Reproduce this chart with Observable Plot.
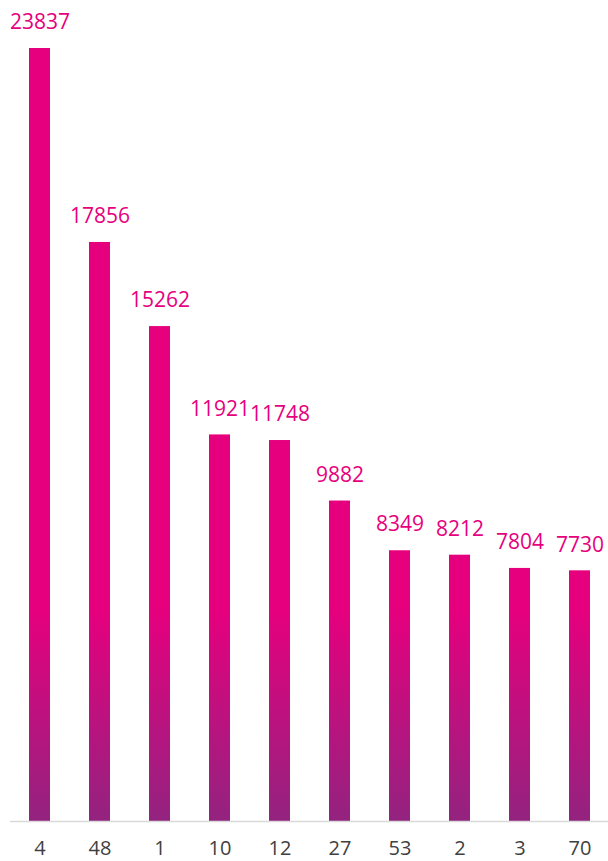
<!DOCTYPE html>
<html>
<head>
<meta charset="utf-8">
<script src="https://cdn.jsdelivr.net/npm/d3@7"></script>
<script src="https://cdn.jsdelivr.net/npm/@observablehq/plot@0.6"></script>
<style>
  html, body { margin: 0; padding: 0; background: #ffffff; }
  svg { display: block; }
</style>
</head>
<body>
<div id="chart"></div>
<script>
const categories = ["4", "48", "1", "10", "12", "27", "53", "2", "3", "70"];
const values = [23837, 17856, 15262, 11921, 11748, 9882, 8349, 8212, 7804, 7730];

const data = categories.map((c, i) => ({category: c, value: values[i]}));

const chart = Plot.plot({
  width: 608,
  height: 861,
  marginTop: 48,
  marginBottom: 40,
  marginLeft: 10,
  marginRight: 0,
  style: {background: "#ffffff", fontFamily: "'Open Sans', sans-serif"},
  x: {domain: categories, range: [10, 610], paddingInner: 0.645, paddingOuter: 0.3225, label: null},
  y: {domain: [0, 23837], axis: null},
  marks: [
    Plot.barY(data, {x: "category", y: "value", fill: "url(#barGrad)"}),
    Plot.ruleY([0], {stroke: "#d9d9d9", strokeWidth: 1.5}),
    Plot.text(data, {
      x: "category", y: "value", text: d => String(d.value),
      dy: -26, fill: "#E6007E", fontSize: 21, lineAnchor: "middle"
    }),
    Plot.axisX({tickSize: 0, tickPadding: 19, fontSize: 20, color: "#404040", label: null})
  ]
});

d3.select(chart).append("defs").html(
  '<linearGradient id="barGrad" gradientUnits="userSpaceOnUse" x1="0" y1="610" x2="0" y2="821">' +
  '<stop offset="0" stop-color="#E6007E"/>' +
  '<stop offset="1" stop-color="#93237F"/>' +
  '</linearGradient>'
);

document.getElementById("chart").appendChild(chart);
</script>
</body>
</html>
